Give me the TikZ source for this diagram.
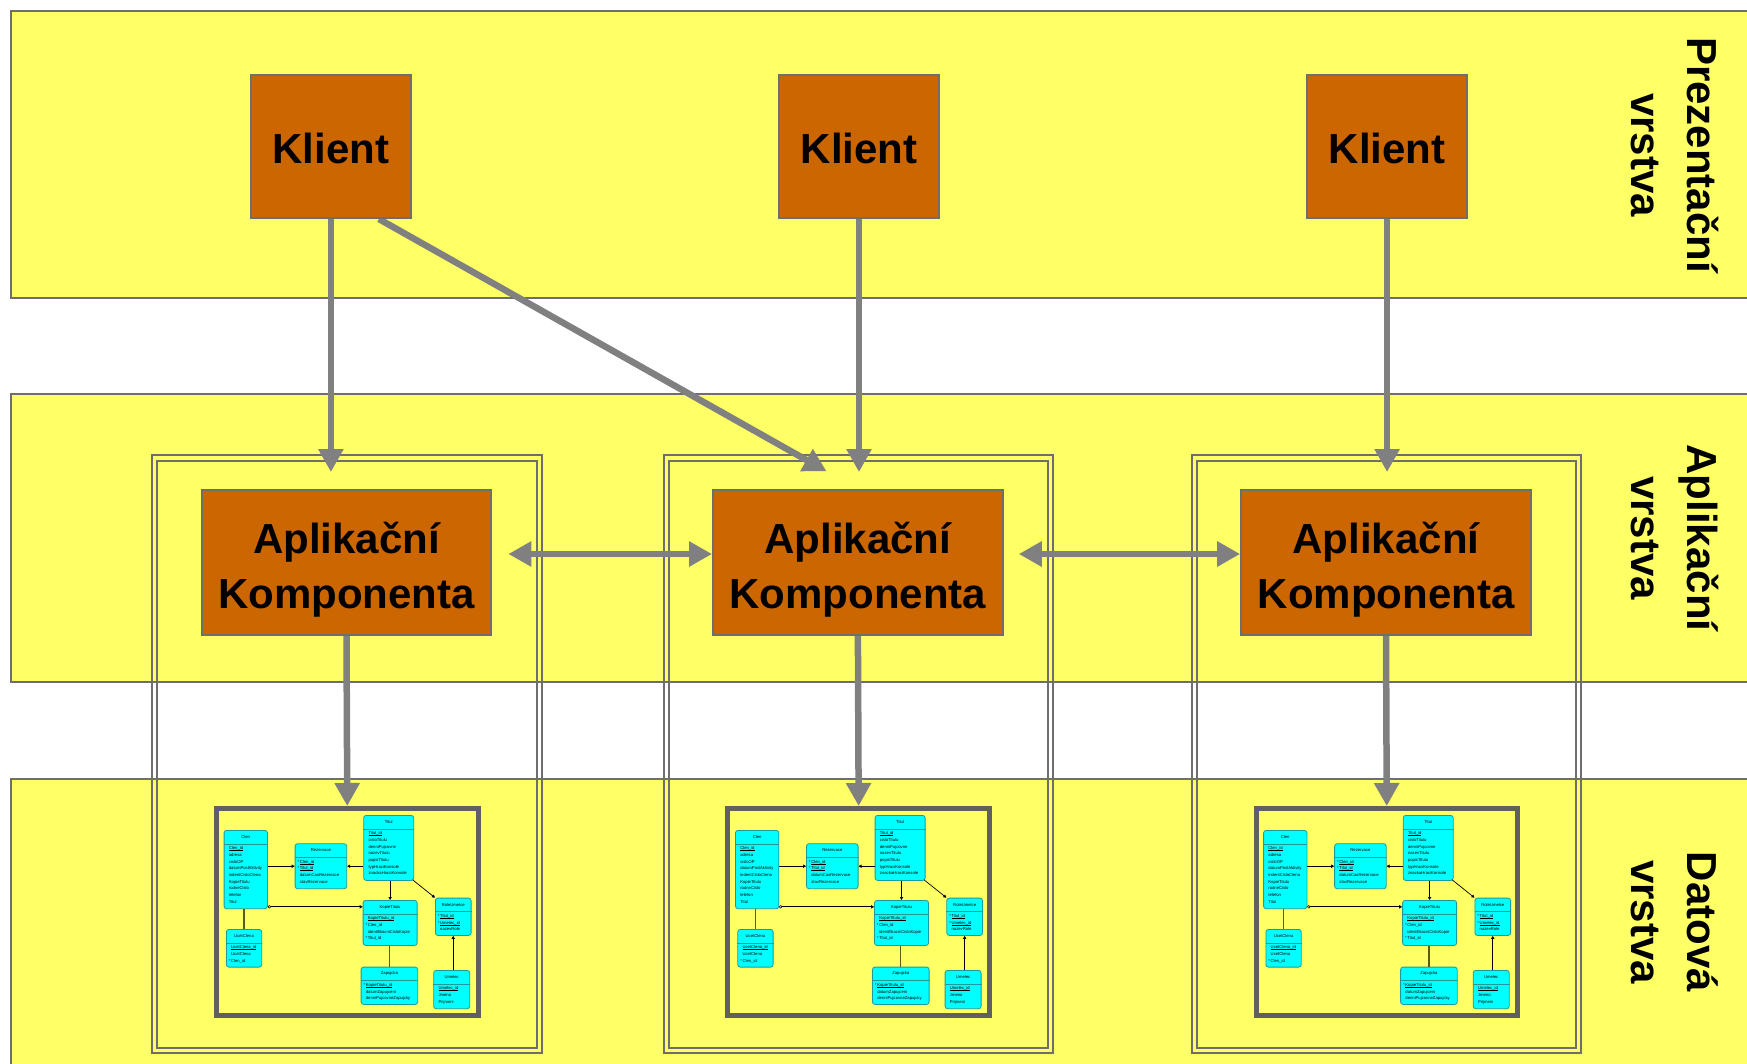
\documentclass[tikz,border=0pt]{standalone}
\usepackage{fontspec}
\setmainfont{Liberation Sans}
\usetikzlibrary{arrows.meta}
\pgfdeclarelayer{bg}
\pgfdeclarelayer{mid}
\pgfsetlayers{bg,mid,main}
\definecolor{bandY}{HTML}{FFFF66}
\definecolor{boxO}{HTML}{CC6600}
\definecolor{edgeG}{HTML}{6E6E6E}
\definecolor{arrG}{HTML}{808080}
\definecolor{erC}{HTML}{00FFFF}
\definecolor{erB}{HTML}{1A9C9C}
\definecolor{frameG}{HTML}{606060}
\definecolor{relOlive}{HTML}{5C5C1A}
\tikzset{
 band/.style={draw=edgeG, fill=bandY, line width=2pt},
 dbl/.style={draw=edgeG, line width=2pt},
 bigbox/.style={draw=edgeG, fill=boxO, line width=2pt, inner sep=0pt, font=\bfseries\fontsize{42}{55}\selectfont, align=center},
 flow/.style={draw=arrG, line width=6.5pt, -{Triangle[width=24pt,length=23pt]}},
 flowtwo/.style={draw=arrG, line width=6.5pt, {Triangle[width=24pt,length=23pt]}-{Triangle[width=24pt,length=23pt]}},
 layerlbl/.style={font=\bfseries\fontsize{42}{56}\selectfont, align=center, rotate=-90, inner sep=0pt},
 erframe/.style={draw=frameG, line width=5pt, inner sep=0pt},
 ertab/.style={draw=erB, fill=erC, line width=0.8pt, rounded corners=2.5pt, inner sep=0pt, anchor=north west},
 ertxt/.style={font=\fontsize{4.2}{6.67}\selectfont, inner sep=0pt},
 erlink/.style={draw=black, line width=0.7pt, -{Triangle[width=3.2pt,length=3pt]}},
 erplain/.style={draw=relOlive, line width=1.2pt},
}
\newcommand\ulx[1]{\setbox0\hbox{#1}\rlap{\rule[-0.9pt]{\wd0}{0.45pt}}\box0}
\newcommand\ertab[7]{%
 \node[ertab, minimum width=#4pt, minimum height=#5pt] (#1) at (#2,#3) {};
 \draw[erB, line width=0.6pt] ([yshift=-14pt]#1.north west) -- ([yshift=-14pt]#1.north east);
 \node[ertxt] at ([yshift=-7pt]#1.north) {#6};
 \node[ertxt, anchor=north west, align=left] at ([xshift=5pt,yshift=-16.5pt]#1.north west) {#7};
}
\begin{document}
\begin{tikzpicture}[x=1pt,y=-1pt]
\clip (0,0) rectangle (1747,1063);
\begin{pgfonlayer}{bg}
\fill[white] (0,0) rectangle (1747,1063);
\draw[band] (11,11) rectangle (1760,297.5);
\draw[band] (11,394) rectangle (1760,682);
\draw[band] (11,779) rectangle (1760,1075);
\end{pgfonlayer}
\node[layerlbl] (lp) at (1675,155) {Prezentační\\vrstva};
\node[layerlbl] (la) at (1675,538) {Aplikační\\vrstva};
\node[layerlbl] (ld) at (1675,922) {Datová\\vrstva};
\node[bigbox, minimum width=160.3pt, minimum height=143.4pt] (k1) at (330.9,146.3) {\rule{0pt}{35pt}Klient};
\node[bigbox, minimum width=160.3pt, minimum height=143.4pt] (k2) at (859,146.3) {\rule{0pt}{35pt}Klient};
\node[bigbox, minimum width=160.3pt, minimum height=143.4pt] (k3) at (1387.1,146.3) {\rule{0pt}{35pt}Klient};
\foreach \dx/\i in {0/1,511.4/2,1039.5/3}{
 \begin{scope}[xshift=\dx pt]
 \begin{pgfonlayer}{bg}
 \draw[dbl] (152.3,455) rectangle (541.7,1053);
 \draw[dbl] (157.3,461) rectangle (536.7,1048);
 \end{pgfonlayer}
 \node[bigbox, minimum width=289.7pt, minimum height=145pt] (a\i) at (346.5,562.5) {\rule{0pt}{45pt}Aplikační\\Komponenta};
 \node[erframe, minimum width=261.5pt, minimum height=207pt] (e\i) at (347.25,912) {};
 \ertab{clen\i}{223.7}{830}{43.3}{78.3}{Clen}{\ulx{Clen\_id}\\adresa\\cisloOP\\datumPoslAktivity\\indentCisloClena\\KopieTitulu\\rodneCislo\\telefon\\Titul}
 \ertab{rez\i}{294.7}{843.3}{51.6}{45}{Rezervace}{\llap{*\,}\ulx{Clen\_id}\\\llap{*\,}\ulx{Titul\_id}\\datumCasRezervace\\stavRezervace}
 \ertab{ucet\i}{226}{929}{35.3}{37.7}{UcetClena}{\ulx{UcetClena\_id}\\UcetClena\\\llap{*\,}Clen\_id}
 \ertab{tit\i}{363.3}{815}{50}{65}{Titul}{\ulx{Titul\_id}\\cisloTitulu\\denniPujcovne\\nazevTitulu\\popisTitulu\\typHraciKonsole\\znackaHraciKonsole}
 \ertab{kop\i}{362.7}{900}{54}{45}{KopieTitulu}{\ulx{KopieTitulu\_id}\\\llap{*\,}Clen\_id\\identifikacniCisloKopie\\\llap{*\,}Titul\_id}
 \ertab{role\i}{435}{897.7}{35.7}{37.3}{RoleUmelce}{\llap{*\,}\ulx{Titul\_id}\\\llap{*\,}\ulx{Umelec\_id}\\nazevRole}
 \ertab{zap\i}{360.7}{966.7}{56.6}{37.3}{Zapujcka}{\llap{*\,}\ulx{KopieTitulu\_id}\\datumZapujceni\\denniPujcovneZapujcky}
 \ertab{um\i}{433.3}{970}{36}{38.3}{Umelec}{\ulx{Umelec\_id}\\Jmeno\\Prijmeni}
 \draw[erlink] (clen\i.east |- rez\i.west) -- (rez\i.west);
 \draw[erlink] (tit\i.west |- rez\i.east) -- (rez\i.east);
 \coordinate (cc\i) at ([xshift=1.5pt,yshift=2.3pt]clen\i.south east);
 \draw[erlink] (cc\i) -- (cc\i -| kop\i.west);
 \draw[black, line width=0.5pt, fill=white] (cc\i) circle (1.3pt);
 \draw[erplain] (ucet\i.north) -- (ucet\i.north |- clen\i.south);
 \draw[erlink] (kop\i.north |- tit\i.south) -- (kop\i.north);
 \draw[erlink] ([xshift=-1.5pt,yshift=1pt]tit\i.south east) -- (role\i.north west);
 \draw[erplain] (zap\i.north) -- (zap\i.north |- kop\i.south);
 \draw[erlink] (role\i.south |- um\i.north) -- (role\i.south);
 \begin{pgfonlayer}{mid}
 \draw[flow] (a\i.south) -- (e\i.north);
 \end{pgfonlayer}
 \end{scope}
}
\begin{pgfonlayer}{mid}
\draw[flow, shorten >=17pt] (k1.south) -- (k1.south |- a1.north);
\draw[flow, shorten >=17pt] (k2.south) -- (k2.south |- a2.north);
\draw[flow, shorten >=17pt] (k3.south) -- (k3.south |- a3.north);
\draw[flow, shorten >=36pt] ([xshift=48pt]k1.south) -- (a2.north);
\draw[flowtwo, shorten <=16pt] ([yshift=8.5pt]a1.east) -- ([yshift=8.5pt]a2.west);
\draw[flowtwo, shorten <=15pt] ([yshift=8.5pt]a2.east) -- ([yshift=8.5pt]a3.west);
\end{pgfonlayer}
\end{tikzpicture}
\end{document}
